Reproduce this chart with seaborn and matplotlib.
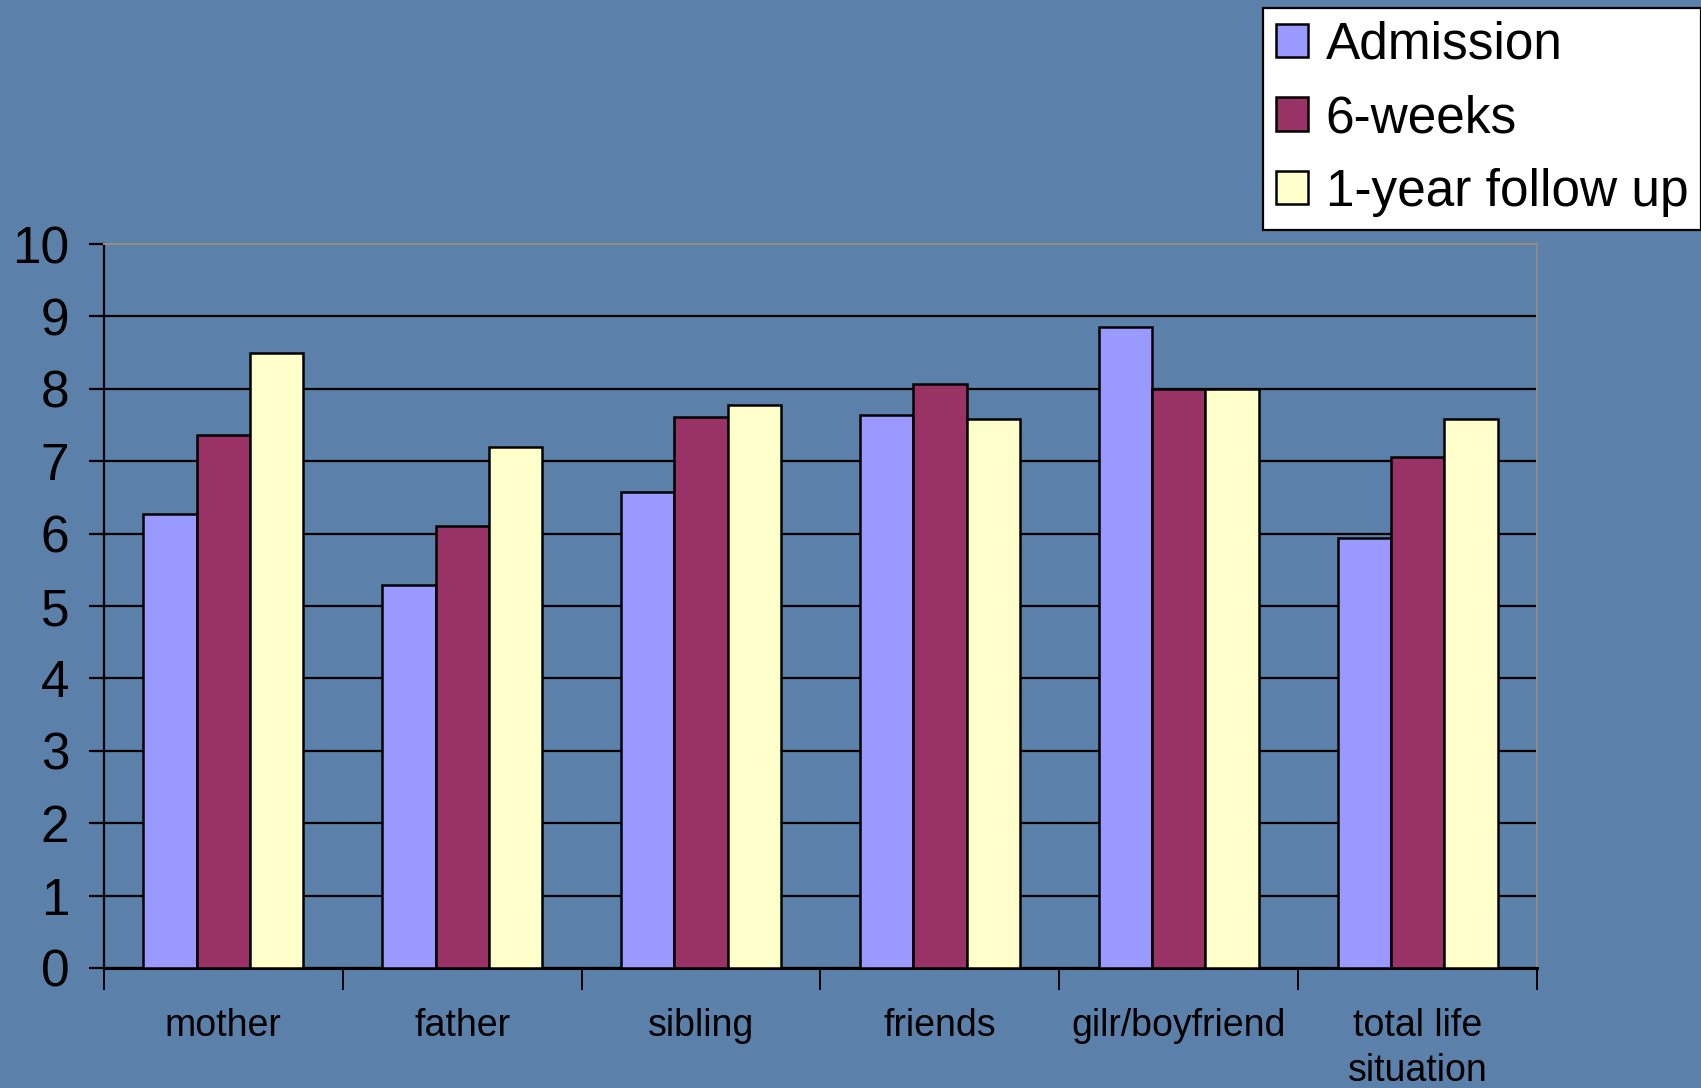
# %%
import numpy as np
import pandas as pd
import matplotlib.pyplot as plt
import seaborn as sns
from matplotlib.ticker import FixedLocator, NullFormatter

categories = ['mother', 'father', 'sibling', 'friends', 'gilr/boyfriend', 'total life\nsituation']
series = ['Admission', '6-weeks', '1-year follow up']
admission = [6.27, 5.29, 6.57, 7.64, 8.85, 5.94]
six_weeks = [7.36, 6.11, 7.61, 8.07, 8.00, 7.06]
one_year = [8.49, 7.20, 7.78, 7.58, 8.00, 7.58]
colors = ['#9999FF', '#993366', '#FFFFCC']
y_ticks = list(range(0, 11))

df = pd.DataFrame({
    'category': categories * 3,
    'period': np.repeat(series, len(categories)),
    'score': admission + six_weeks + one_year,
})

sns.set_style('white')
plt.rcParams['font.family'] = ['Liberation Sans', 'DejaVu Sans']
plt.rcParams['text.color'] = 'black'

bg = '#5b80a9'
fig = plt.figure(figsize=(17.01, 10.88), dpi=100, facecolor=bg)
ax = fig.add_axes([0.0611, 0.1103, 0.8425, 0.6654])
ax.set_facecolor(bg)

sns.barplot(data=df, x='category', y='score', hue='period', order=categories,
            hue_order=series, palette=dict(zip(series, colors)), saturation=1,
            width=0.67, edgecolor='black', linewidth=1.8, ax=ax, zorder=3)

ax.set_xlim(-0.5, len(categories) - 0.5)
ax.set_ylim(0, 10)
ax.set_yticks(y_ticks)
ax.set_xlabel('')
ax.set_ylabel('')

# gridlines (top one is the plot border)
ax.yaxis.grid(True, color='black', linewidth=1.6, zorder=1)
ax.set_axisbelow(True)
ax.get_ygridlines()[-1].set_visible(False)

for side in ['left', 'bottom']:
    ax.spines[side].set_color('black')
ax.spines['left'].set_linewidth(1.6)
ax.spines['bottom'].set_linewidth(2.2)
ax.spines['top'].set_color('#948d80')
ax.spines['top'].set_linewidth(1.5)
ax.spines['right'].set_color('#8a8a8a')
ax.spines['right'].set_linewidth(1.5)

ax.tick_params(axis='y', direction='out', length=11, width=1.6, color='black',
               pad=14, labelsize=37, labelcolor='black', left=True)
ax.tick_params(axis='x', which='major', length=0, pad=29, labelsize=27, labelcolor='black')
ax.xaxis.set_minor_locator(FixedLocator(np.arange(-0.5, len(categories), 1.0)))
ax.xaxis.set_minor_formatter(NullFormatter())
ax.tick_params(axis='x', which='minor', direction='out', length=16, width=1.4,
               color='black', bottom=True)
for lab in ax.get_xticklabels():
    lab.set_linespacing(1.3)
    lab.set_verticalalignment('top')

handles, labels = ax.get_legend_handles_labels()
ax.get_legend().remove()
leg = fig.legend(handles, labels, loc='upper right', bbox_to_anchor=(1.0, 0.993),
                 fontsize=37, frameon=True, fancybox=False, edgecolor='black',
                 facecolor='white', framealpha=1, labelcolor='black',
                 handlelength=0.62, handleheight=0.62, handletextpad=0.35,
                 labelspacing=0.48, borderpad=0.25, borderaxespad=0)
leg.get_frame().set_linewidth(1.6)

fig.savefig('out.png', dpi=100, facecolor=fig.get_facecolor())
